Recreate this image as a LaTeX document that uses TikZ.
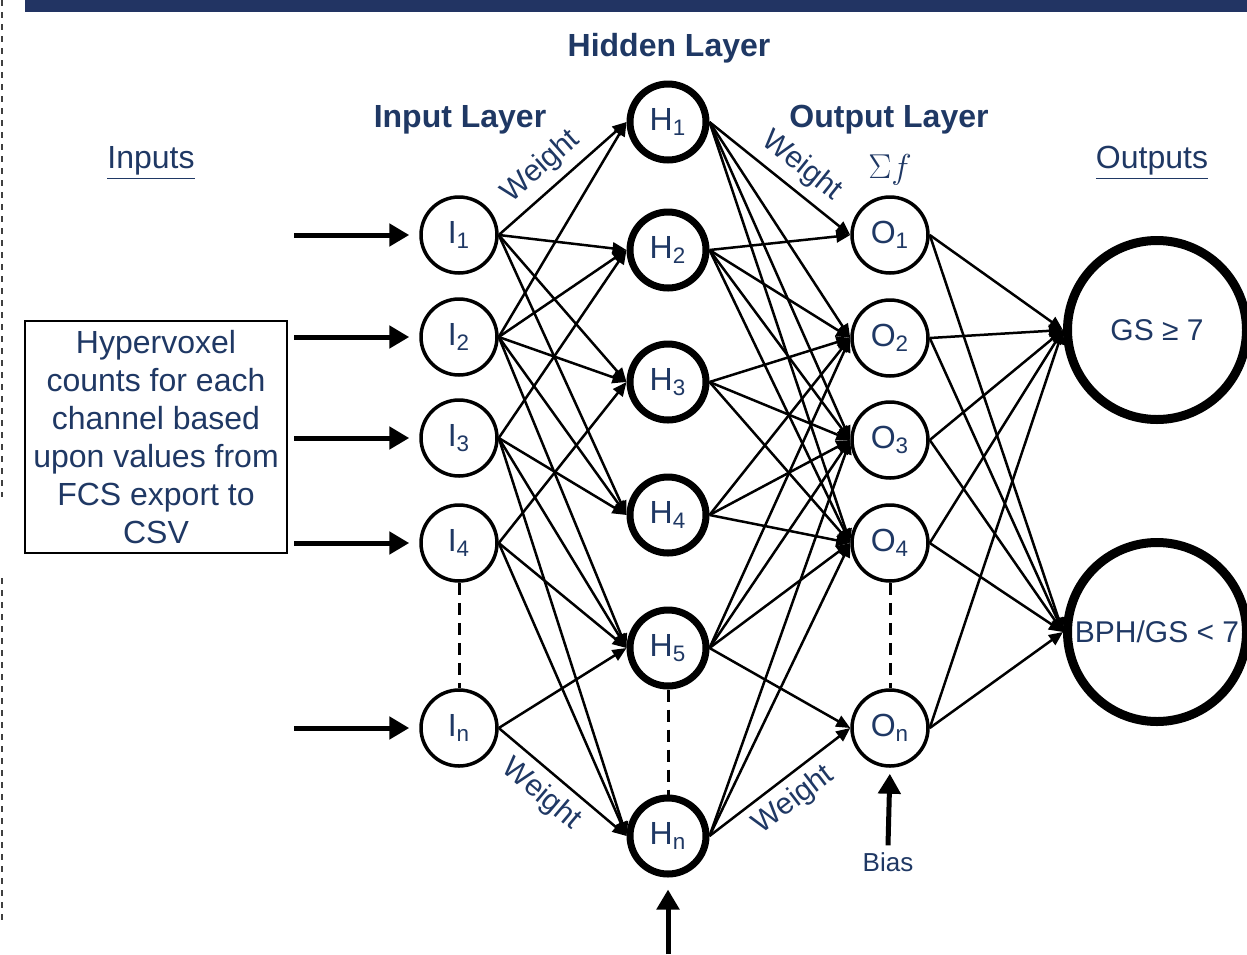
\documentclass[tikz,border=0pt]{standalone}
\usepackage{fontspec}
\setmainfont{Liberation Sans}
\usetikzlibrary{arrows.meta}
\definecolor{navy}{RGB}{31,56,100}
\definecolor{barblue}{RGB}{34,52,99}
\newcommand{\idx}[1]{\textsubscript{#1}}

\begin{document}
\begin{tikzpicture}[x=0.5pt,y=-0.5pt,>={Triangle[length=7pt,width=6pt]},
    every node/.style={text=navy},
    neuron/.style={circle,draw,line width=1.75pt,minimum size=38pt,inner sep=0pt,font=\fontsize{16}{19}\selectfont},
    hidden/.style={neuron,line width=3.5pt},
    result/.style={circle,draw,line width=4.5pt,minimum size=89.5pt,inner sep=0pt,font=\fontsize{15}{18}\selectfont},
    link/.style={->,line width=1.25pt},
    feed/.style={->,>={Triangle[length=10pt,width=11pt]},line width=2.5pt},
    dots/.style={line width=1.5pt,dash pattern=on 6pt off 4pt},
    weight/.style={sloped,inner sep=4pt,font=\fontsize{15}{17}\selectfont},
    title/.style={font=\fontsize{16}{19}\selectfont\bfseries},
    label/.style={font=\fontsize{16}{19}\selectfont}]

    \useasboundingbox (0,0) rectangle (1247,954);
    \fill[barblue] (25,0) rectangle (1247,12);
    \draw[black!75,dashed,line width=0.6pt] (2,0) -- (2,497);
    \draw[black!75,dashed,line width=0.6pt] (2,578) -- (2,925);

    % titles
    \node[title] (thidden) at (669,48)  {Hidden Layer};
    \node[title] (tinput)  at (460,120) {Input Layer};
    \node[title] (toutput) at (889,120) {Output Layer};
    \node[label] (tin)     at (151,163) {\underline{Inputs}};
    \node[label] (tout)    at (1152,163) {\underline{Outputs}};
    \node[label] (sum)     at (890,170) {$\Sigma f$};

    % input layer
    \node[neuron] (I1) at (459,235) {I\idx{1}};
    \node[neuron] (I2) at (459,337) {I\idx{2}};
    \node[neuron] (I3) at (459,438) {I\idx{3}};
    \node[neuron] (I4) at (459,543) {I\idx{4}};
    \node[neuron] (In) at (459,728) {I\idx{n}};

    % hidden layer
    \node[hidden] (H1) at (668,122) {H\idx{1}};
    \node[hidden] (H2) at (668,250) {H\idx{2}};
    \node[hidden] (H3) at (668,382) {H\idx{3}};
    \node[hidden] (H4) at (668,515) {H\idx{4}};
    \node[hidden] (H5) at (668,648) {H\idx{5}};
    \node[hidden] (Hn) at (668,836) {H\idx{n}};

    % output layer
    \node[neuron] (O1) at (890,235) {O\idx{1}};
    \node[neuron] (O2) at (890,338) {O\idx{2}};
    \node[neuron] (O3) at (890,440) {O\idx{3}};
    \node[neuron] (O4) at (890,543) {O\idx{4}};
    \node[neuron] (On) at (890,728) {O\idx{n}};

    \node[result] (GS)  at (1157,330) {GS ≥ 7};
    \node[result] (BPH) at (1157,632) {BPH/GS < 7};

    \node[draw,line width=1pt,minimum width=131pt,minimum height=116pt,align=center,
          font=\fontsize{16}{19}\selectfont] (counts) at (156,437)
          {Hypervoxel\\counts for each\\channel based\\upon values from\\FCS export to\\CSV};

    \node[font=\fontsize{13}{15}\selectfont] (bias) at (888,862) {Bias};
    \coordinate (hbot) at (668,954);
    \coordinate (in1) at (294,235);
    \coordinate (in2) at (294,337);
    \coordinate (in3) at (294,438);
    \coordinate (in4) at (294,543);
    \coordinate (inn) at (294,728);

    % inputs
    \path[feed,shorten >=5pt] (in1) edge (I1.west) (in2) edge (I2.west) (in3) edge (I3.west)
        (in4) edge (I4.west) (inn) edge (In.west);
    \path[feed,shorten >=6pt] (hbot) edge (Hn.south);
    \path[feed,shorten >=3pt] (bias.north) edge (On.south);

    % dots
    \draw[dots] (I4) -- (In);
    \draw[dots] (H5) -- (Hn);
    \draw[dots] (O4) -- (On);

    % input -> hidden
    \path[link] (I1.east) edge node[weight,above,pos=0.45] {Weight} (H1.west)
        edge (H2.west) edge (H3.west) edge (H4.west);
    \path[link] (I2.east) edge (H1.west) edge (H2.west) edge (H3.west) edge (H4.west) edge (H5.west);
    \path[link] (I3.east) edge (H2.west) edge (H4.west) edge (H5.west) edge (Hn.west);
    \path[link] (I4.east) edge (H3.west) edge (H5.west) edge (Hn.west);
    \path[link] (In.east) edge (H5.west)
        edge node[weight,below,pos=0.45] {Weight} (Hn.west);

    % hidden -> output
    \path[link] (H1.east) edge node[weight,above,pos=0.55] {Weight} (O1.west)
        edge (O2.west) edge (O3.west) edge (O4.west);
    \path[link] (H2.east) edge (O1.west) edge (O2.west) edge (O3.west) edge (O4.west);
    \path[link] (H3.east) edge (O2.west) edge (O3.west) edge (O4.west);
    \path[link] (H4.east) edge (O2.west) edge (O3.west) edge (O4.west);
    \path[link] (H5.east) edge (O2.west) edge (O3.west) edge (O4.west) edge (On.west);
    \path[link] (Hn.east) edge (O3.west) edge (O4.west)
        edge node[weight,below,pos=0.5] {Weight} (On.west);

    % output -> result
    \path[link] (O1.east) edge (GS.west) edge (BPH.west);
    \path[link] (O2.east) edge (GS.west) edge (BPH.west);
    \path[link] (O3.east) edge (GS.west) edge (BPH.west);
    \path[link] (O4.east) edge (GS.west) edge (BPH.west);
    \path[link] (On.east) edge (GS.west) edge (BPH.west);

\end{tikzpicture}
\end{document}
